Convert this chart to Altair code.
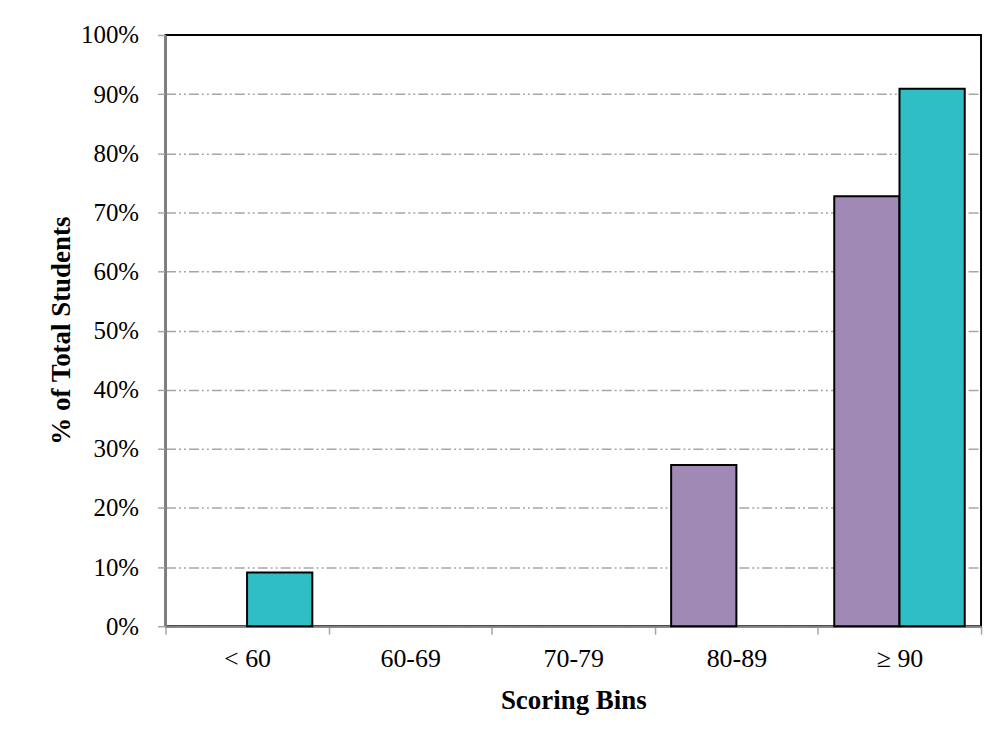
import altair as alt
import pandas as pd

bins = ["< 60", "60-69", "70-79", "80-89", "≥ 90"]
series_names = ["Series 1", "Series 2"]
series1 = [0.0, 0.0, 0.0, 0.2727, 0.7273]
series2 = [0.0909, 0.0, 0.0, 0.0, 0.9091]
colors = ["#A189B5", "#30BEC6"]
y_ticks = [0.0, 0.1, 0.2, 0.3, 0.4, 0.5, 0.6, 0.7, 0.8, 0.9, 1.0]

df = pd.DataFrame({
    "bin": bins * 2,
    "series": [series_names[0]] * len(bins) + [series_names[1]] * len(bins),
    "value": series1 + series2,
})

FONT = "Liberation Serif"

chart = alt.Chart(df).transform_filter("datum.value > 0").mark_bar(
    stroke="#000000", strokeWidth=2
).encode(
    x=alt.X(
        "bin:N", sort=bins,
        scale=alt.Scale(domain=bins, paddingInner=0, paddingOuter=0),
        axis=alt.Axis(
            title="Scoring Bins", labelAngle=0, tickBand="extent",
            domainColor="#7f7f7f", domainWidth=2,
            tickColor="#a6a6a6", tickWidth=1.5, tickSize=8,
            labelFont=FONT, labelFontSize=26, labelColor="#000000",
            labelBaseline="alphabetic", labelPadding=32,
            titleFont=FONT, titleFontSize=27, titleFontWeight="bold", titleColor="#000000",
            titleBaseline="alphabetic", titleY=83, titleX=409,
        ),
    ),
    xOffset=alt.XOffset(
        "series:N",
        scale=alt.Scale(domain=series_names, paddingInner=0, paddingOuter=0.25),
    ),
    y=alt.Y(
        "value:Q",
        scale=alt.Scale(domain=[0, 1]),
        axis=alt.Axis(
            values=y_ticks, format=".0%", title="% of Total Students",
            domainColor="#7f7f7f", domainWidth=2,
            tickColor="#a6a6a6", tickWidth=1.5, tickSize=8,
            grid=True, gridColor="#a6a6a6", gridWidth=1.5, gridDash=[10, 3, 2, 3, 2, 3],
            gridOpacity={"condition": {"test": "datum.value >= 1", "value": 0}, "value": 1},
            labelFont=FONT, labelFontSize=25, labelColor="#000000", labelPadding=19,
            titleFont=FONT, titleFontSize=27, titleFontWeight="bold", titleColor="#000000",
            titleBaseline="middle", titleX=-104, titleY=296, titleAngle=270,
        ),
    ),
    color=alt.Color(
        "series:N", scale=alt.Scale(domain=series_names, range=colors), legend=None
    ),
).properties(
    width=818,
    height=593,
    autosize=alt.AutoSizeParams(type="none"),
    padding={"left": 158, "top": 26, "right": 12, "bottom": 105},
).configure_view(
    stroke="#000000", strokeWidth=2
)

chart.save("out.html", embed_options={"renderer": "svg", "actions": False})
